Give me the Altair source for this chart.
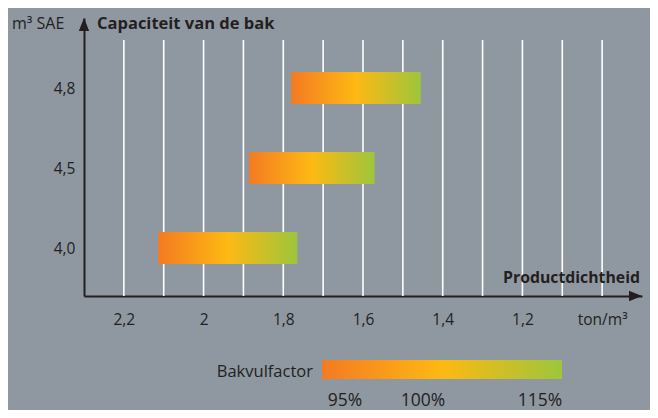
import altair as alt
import pandas as pd

# ---- data ----
capacities = ["4,8", "4,5", "4,0"]          # m3 SAE
cap_index = [3, 2, 1]                        # vertical slot of each bucket
density_high = [1.78, 1.886, 2.114]          # left end of bar (ton/m3)
density_low = [1.455, 1.571, 1.765]          # right end of bar (ton/m3)
grid_x = [2.2, 2.1, 2.0, 1.9, 1.8, 1.7, 1.6, 1.5, 1.4, 1.3, 1.2, 1.1, 1.0]
x_ticks = [2.2, 2.0, 1.8, 1.6, 1.4, 1.2, 1.0]
legend_labels = ["95%", "100%", "115%"]

BG = "#8f98a1"
INK = "#231f20"
FONT = "Open Sans"
W, H = 558, 278

bars = pd.DataFrame({
    "cap": capacities,
    "y0": [i - 0.2 for i in cap_index],
    "y1": [i + 0.2 for i in cap_index],
    "x0": density_high,
    "x1": density_low,
})
grid = pd.DataFrame({"x": grid_x, "ytop": [3.6] * len(grid_x), "ybot": [0.4] * len(grid_x)})

grad = alt.Gradient(
    gradient="linear",
    stops=[
        alt.GradientStop(color="#f47a22", offset=0),
        alt.GradientStop(color="#fdb913", offset=0.5),
        alt.GradientStop(color="#9dc63b", offset=1),
    ],
    x1=0, x2=1, y1=0, y2=0,
)

ymap = " : ".join(f"datum.value == {i} ? '{c}'" for i, c in zip(cap_index, capacities)) + " : ''"

xscale = alt.Scale(domain=[0.9, 2.3], reverse=True, nice=False, zero=False)
yscale = alt.Scale(domain=[0.4, 3.875], nice=False, zero=False)

xaxis = alt.Axis(
    values=x_ticks, title=None, grid=False, ticks=False, tickSize=0,
    labelExpr="datum.value == 1 ? 'ton/m³' : replace(format(datum.value, '.1~f'), '.', ',')",
    labelFont=FONT, labelFontSize=15.5, labelColor=INK, labelBaseline="middle",
    labelPadding=23, domainColor=INK, domainWidth=2, labelFlush=False,
)
yaxis = alt.Axis(
    values=cap_index, title=None, grid=False, ticks=False, tickSize=0,
    labelExpr=ymap, labelFont=FONT, labelFontSize=15.5, labelColor=INK,
    labelPadding=9, domainColor=INK, domainWidth=2,
)

gridlines = alt.Chart(grid).mark_rule(color="white", strokeWidth=1.6).encode(
    x=alt.X("x:Q", scale=xscale, axis=xaxis),
    y=alt.Y("ytop:Q", scale=yscale, axis=yaxis),
    y2="ybot:Q",
)

barlayer = alt.Chart(bars).mark_rect(color=grad).encode(
    x=alt.X("x0:Q", scale=xscale),
    x2="x1:Q",
    y=alt.Y("y0:Q", scale=yscale),
    y2="y1:Q",
)

one = pd.DataFrame({"a": [0]})

arrow_up = alt.Chart(one).mark_point(
    shape="M0,0L0.4,1L-0.4,1Z", filled=True, size=676, color=INK, opacity=1, strokeWidth=0
).encode(x=alt.value(0), y=alt.value(0))
arrow_right = alt.Chart(one).mark_point(
    shape="M0,0L-1,-0.4L-1,0.4Z", filled=True, size=676, color=INK, opacity=1, strokeWidth=0
).encode(x=alt.value(W), y=alt.value(H))

def txt(s, x, y, size=15, weight="normal", align="left", baseline="alphabetic"):
    return alt.Chart(one).mark_text(
        text=s, font=FONT, fontSize=size, fontWeight=weight, color=INK,
        align=align, baseline=baseline,
    ).encode(x=alt.value(x), y=alt.value(y))

texts = [
    txt("m³ SAE", -72, 11, 16),
    txt("Capaciteit van de bak", 13, 11, 16.5, "bold"),
    txt("Productdichtheid", 556, 265, 15.8, "bold", "right"),
    txt("Bakvulfactor", 229, 354, 16.5, "normal", "right", "middle"),
]
legend_x = [261, 339, 456]
for lab, lx in zip(legend_labels, legend_x):
    texts.append(txt(lab, lx, 383, 17.5, "normal", "center", "middle"))

legend_bar = alt.Chart(one).mark_rect(color=grad).encode(
    x=alt.value(238), x2=alt.value(478), y=alt.value(342), y2=alt.value(361)
)

chart = alt.layer(gridlines, barlayer, arrow_up, arrow_right, legend_bar, *texts).properties(
    width=W, height=H,
    autosize=alt.AutoSizeParams(type="none"),
    padding={"left": 76, "top": 10, "right": 8, "bottom": 114},
    background=BG,
).configure_view(stroke=None)

chart.save("out.html", embed_options={"renderer": "svg", "actions": False})
